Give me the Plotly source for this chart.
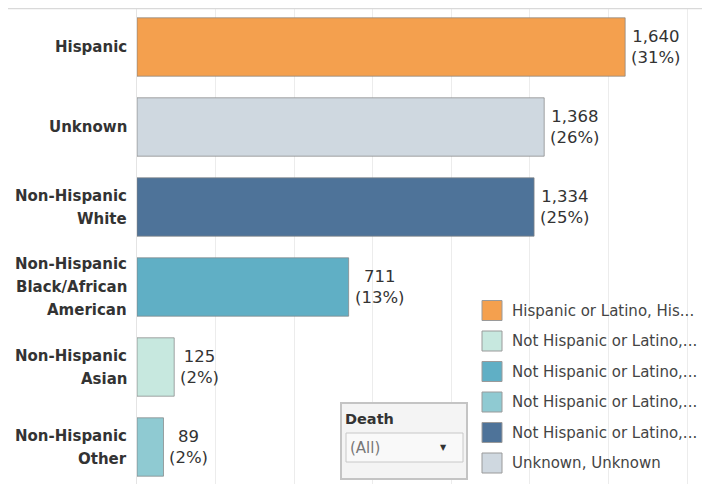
import plotly.graph_objects as go

categories = ["Hispanic", "Unknown", "Non-Hispanic White", "Non-Hispanic Black/African American",
              "Non-Hispanic Asian", "Non-Hispanic Other"]
label_lines = [["Hispanic"], ["Unknown"], ["Non-Hispanic", "White"],
               ["Non-Hispanic", "Black/African", "American"], ["Non-Hispanic", "Asian"],
               ["Non-Hispanic", "Other"]]
values = [1640, 1368, 1334, 711, 125, 89]
percents = [31, 26, 25, 13, 2, 2]
bar_colors = ["#F4A04E", "#CFD8E0", "#4E7399", "#60AFC5", "#C7E8DF", "#8FCAD2"]
legend_labels = ["Hispanic or Latino, His...", "Not Hispanic or Latino,...", "Not Hispanic or Latino,...",
                 "Not Hispanic or Latino,...", "Not Hispanic or Latino,...", "Unknown, Unknown"]
legend_colors = ["#F4A04E", "#C7E8DF", "#60AFC5", "#8FCAD2", "#4E7399", "#CFD8E0"]
filter_title = "Death"
filter_value = "(All)"

# page has an 8px body margin; figure is sized to fill the rest of the 710x484 window
OFF = 8
W, H = 710 - OFF, 484 - OFF
PLOT_LEFT_PAGE = 137
L = PLOT_LEFT_PAGE - OFF
PW, PH = W - L, H


def px(x_page):
    return (x_page - PLOT_LEFT_PAGE) / PW


def py(y_page):
    return (484 - y_page) / PH


fig = go.Figure()
fig.add_trace(go.Bar(
    y=categories, x=values, orientation="h", width=0.73,
    marker=dict(color=bar_colors, line=dict(color="rgba(130,130,130,0.7)", width=1)),
    hoverinfo="skip", showlegend=False,
))

annotations = []
FONT = "DejaVu Sans"
for cat, lines in zip(categories, label_lines):
    n = len(lines)
    for i, ln in enumerate(lines):
        annotations.append(dict(
            x=0, xref="paper", y=cat, yref="y", text=ln, showarrow=False,
            xanchor="right", yanchor="middle", xshift=-8, yshift=-(i - (n - 1) / 2) * 23,
            font=dict(family=FONT, size=15, color="#333333", weight="bold"),
        ))
for cat, v, p in zip(categories, values, percents):
    annotations.append(dict(
        x=v, xref="x", y=cat, yref="y", text=f"{v:,}<br>({p}%)", showarrow=False,
        xanchor="left", yanchor="middle", xshift=4, align="center",
        font=dict(family=FONT, size=16.5, color="#333333"),
    ))

shapes = [dict(type="line", xref="paper", yref="paper", x0=px(8), x1=1, y0=py(8.5), y1=py(8.5),
               line=dict(color="#d9d9d9", width=1.5))]

for i, (lab, col) in enumerate(zip(legend_labels, legend_colors)):
    cy = 310.5 + 30.5 * i
    shapes.append(dict(type="rect", xref="paper", yref="paper", x0=px(482), x1=px(502),
                       y0=py(cy - 10), y1=py(cy + 10), fillcolor=col,
                       line=dict(color="#9a9a9a", width=1)))
    annotations.append(dict(x=px(510), xref="paper", y=py(cy), yref="paper", text=lab,
                            showarrow=False, xanchor="left", yanchor="middle",
                            font=dict(family=FONT, size=15, color="#444444")))

# filter box
shapes.append(dict(type="rect", xref="paper", yref="paper", x0=px(341), x1=px(467),
                   y0=py(479), y1=py(403), fillcolor="#f4f4f4", line=dict(color="#c4c4c4", width=2)))
shapes.append(dict(type="rect", xref="paper", yref="paper", x0=px(346), x1=px(463),
                   y0=py(462), y1=py(433), fillcolor="#f9f9f9", line=dict(color="#c8c8c8", width=1)))
annotations.append(dict(x=px(343), xref="paper", y=py(419), yref="paper", text=filter_title,
                        showarrow=False, xanchor="left", yanchor="middle",
                        font=dict(family=FONT, size=14.5, color="#333333", weight="bold")))
annotations.append(dict(x=px(348), xref="paper", y=py(448), yref="paper", text=filter_value,
                        showarrow=False, xanchor="left", yanchor="middle",
                        font=dict(family=FONT, size=15, color="#777777")))
annotations.append(dict(x=px(443), xref="paper", y=py(447), yref="paper", text="▼",
                        showarrow=False, xanchor="center", yanchor="middle",
                        font=dict(family=FONT, size=8, color="#333333")))

top_range = -0.5 + 1 / 80
fig.update_layout(
    width=W, height=H, margin=dict(l=L, r=0, t=0, b=0, pad=0),
    paper_bgcolor="white", plot_bgcolor="white",
    xaxis=dict(range=[0, 1925], dtick=264, tick0=0, showgrid=True, gridcolor="#ececec",
               showticklabels=False, zeroline=False, showline=False, fixedrange=True),
    yaxis=dict(type="category", categoryorder="array", categoryarray=categories,
               range=[top_range + PH / 80, top_range], showticklabels=False, showgrid=False,
               showline=True, linecolor="#e4e4e4", linewidth=1, fixedrange=True),
    annotations=annotations, shapes=shapes, bargap=0.27,
)

fig.write_html("out.html")
